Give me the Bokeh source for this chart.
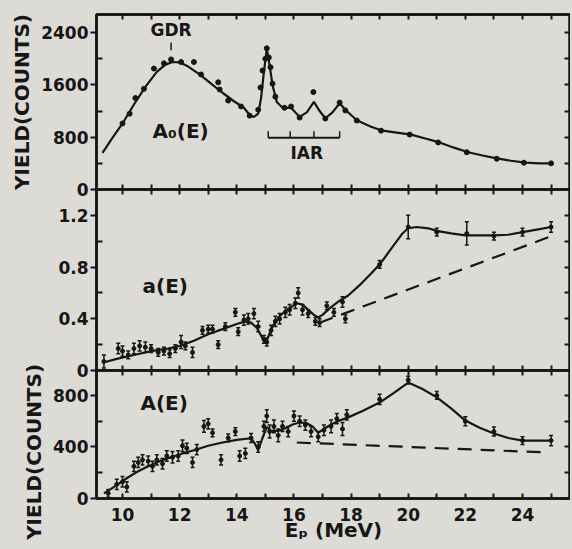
from bokeh.plotting import figure
from bokeh.layouts import column
from bokeh.models import (Range1d, LinearAxis, FixedTicker, Whisker, ColumnDataSource, TeeHead,
                          CustomLabelingPolicy)
from bokeh.core.properties import value
from bokeh.embed import file_html
from bokeh.resources import INLINE

FONT = "DejaVu Sans"
BG = "#dcdbd5"
INK = "#161616"

# ---------------- data ----------------
x_major = [10, 12, 14, 16, 18, 20, 22, 24]
x_minor = [9, 11, 13, 15, 17, 19, 21, 23, 25]

# Panel 1: A0(E) yield (counts)
a0_curve_E = [9.3, 9.6, 10.0, 10.4, 10.8, 11.2, 11.5, 11.75, 12.0, 12.3, 12.7, 13.1, 13.5, 13.9,
              14.25, 14.45, 14.6, 14.75, 14.85, 14.95, 15.05, 15.15, 15.25, 15.4, 15.6, 15.9,
              16.2, 16.45, 16.7, 16.9, 17.1, 17.35, 17.6, 17.8, 18.2, 18.7, 19.1, 19.6, 20.1,
              20.6, 21.1, 21.6, 22.1, 22.6, 23.1, 23.6, 24.1, 24.6, 25.0]
a0_curve_Y = [560, 760, 1010, 1300, 1570, 1800, 1910, 1950, 1945, 1880, 1760, 1620, 1480, 1350,
              1250, 1140, 1110, 1160, 1400, 1800, 2150, 1900, 1600, 1340, 1250, 1250,
              1110, 1180, 1340, 1200, 1090, 1180, 1320, 1220, 1060, 960, 900, 870, 840,
              780, 720, 640, 570, 520, 475, 440, 410, 400, 400]
a0_pts_E = [10.0, 10.25, 10.45, 10.75, 11.1, 11.45, 11.7, 12.05, 12.5, 12.75, 13.35, 13.4, 13.7,
            14.15, 14.45, 14.75, 14.83, 14.9, 15.0, 15.05, 15.12, 15.18, 15.25, 15.35, 15.67,
            15.9, 16.2, 16.68, 17.1, 17.6, 17.8, 18.2, 19.05, 20.05, 21.05, 22.05, 23.1, 24.05, 25.0]
a0_pts_Y = [1010, 1160, 1400, 1540, 1850, 1930, 1990, 1950, 1950, 1760, 1640, 1530, 1360,
            1270, 1130, 1220, 1560, 1820, 2000, 2160, 2020, 1870, 1620, 1420, 1250,
            1270, 1100, 1490, 1085, 1330, 1210, 1055, 900, 840, 720, 570, 470, 410, 400]
iar_E = [15.1, 15.87, 16.7, 17.6]

# Panel 2: a(E)
ae_curve_E = [9.3, 9.8, 10.4, 11.0, 11.6, 12.0, 12.5, 13.0, 13.5, 14.0, 14.3, 14.5, 14.7, 14.9,
              15.0, 15.1, 15.25, 15.45, 15.7, 15.9, 16.1, 16.3, 16.5, 16.7, 16.85, 17.0, 17.3,
              17.6, 17.9, 18.3, 18.7, 19.0, 19.4, 19.8, 20.0, 20.3, 20.7, 21.0, 21.5, 22.0,
              22.5, 23.0, 23.5, 24.0, 24.5, 25.0]
ae_curve_Y = [0.06, 0.09, 0.12, 0.15, 0.17, 0.19, 0.23, 0.28, 0.32, 0.36, 0.38, 0.37, 0.33, 0.25,
              0.22, 0.26, 0.34, 0.41, 0.46, 0.49, 0.52, 0.51, 0.47, 0.43, 0.41, 0.43, 0.49,
              0.54, 0.58, 0.66, 0.75, 0.82, 0.94, 1.06, 1.10, 1.11, 1.10, 1.08, 1.06, 1.045,
              1.045, 1.045, 1.05, 1.07, 1.09, 1.11]
ae_dash_E = [16.9, 24.9]
ae_dash_Y = [0.37, 1.03]
ae_pts_E = [9.35, 9.85, 10.0, 10.2, 10.4, 10.6, 10.8, 11.0, 11.25, 11.45, 11.65, 11.85, 12.05,
            12.2, 12.45, 12.8, 13.0, 13.15, 13.35, 13.6, 13.95, 14.05, 14.25, 14.4, 14.6, 14.75,
            14.95, 15.05, 15.2, 15.35, 15.5, 15.7, 15.85, 16.05, 16.15, 16.3, 16.5, 16.75, 16.9,
            17.15, 17.4, 17.7, 17.8, 19.0, 20.0, 21.0, 22.05, 23.0, 24.0, 25.0]
ae_pts_Y = [0.07, 0.17, 0.15, 0.12, 0.17, 0.19, 0.18, 0.17, 0.14, 0.15, 0.13, 0.17, 0.22,
            0.19, 0.14, 0.31, 0.32, 0.32, 0.20, 0.34, 0.45, 0.30, 0.39, 0.40, 0.44, 0.34,
            0.24, 0.22, 0.31, 0.38, 0.40, 0.45, 0.47, 0.52, 0.60, 0.47, 0.44, 0.38, 0.37,
            0.50, 0.45, 0.53, 0.40, 0.82, 1.11, 1.07, 1.06, 1.04, 1.07, 1.11]
ae_pts_err = [0.05, 0.04, 0.04, 0.03, 0.04, 0.04, 0.04, 0.03, 0.03, 0.03, 0.03, 0.03, 0.05,
              0.03, 0.04, 0.03, 0.03, 0.03, 0.03, 0.03, 0.03, 0.03, 0.04, 0.04, 0.04, 0.04,
              0.03, 0.03, 0.04, 0.04, 0.04, 0.04, 0.04, 0.04, 0.04, 0.04, 0.03, 0.03, 0.03,
              0.03, 0.03, 0.04, 0.03, 0.03, 0.09, 0.03, 0.09, 0.03, 0.03, 0.04]

# Panel 3: A(E) yield (counts)
A_curve_E = [9.35, 9.6, 9.9, 10.2, 10.5, 10.9, 11.3, 11.7, 12.1, 12.5, 13.0, 13.5, 14.0, 14.5,
             14.65, 14.75, 14.9, 15.05, 15.2, 15.45, 15.7, 15.95, 16.2, 16.45, 16.65, 16.85,
             17.05, 17.3, 17.6, 17.9, 18.4, 19.0, 19.5, 20.0, 20.5, 21.0, 21.5, 22.0, 22.5,
             23.0, 23.5, 24.0, 24.5, 25.0]
A_curve_Y = [40, 75, 120, 165, 205, 250, 290, 320, 350, 375, 410, 435, 455, 468,
             420, 375, 470, 555, 525, 525, 545, 575, 590, 585, 560, 510,
             540, 575, 605, 630, 680, 745, 820, 900, 850, 785, 700, 605, 550,
             505, 470, 450, 450, 450]
A_dash_E = [16.1, 24.8]
A_dash_Y = [435, 358]
A_pts_E = [9.5, 9.8, 10.0, 10.15, 10.4, 10.55, 10.7, 10.9, 11.05, 11.2, 11.4, 11.55, 11.75,
           11.95, 12.1, 12.25, 12.45, 12.6, 12.85, 13.0, 13.15, 13.45, 13.7, 13.95, 14.1, 14.3,
           14.5, 14.75, 14.95, 15.05, 15.15, 15.3, 15.45, 15.6, 15.8, 16.0, 16.2, 16.4, 16.6,
           16.85, 17.05, 17.3, 17.5, 17.7, 17.85, 19.0, 20.0, 21.0, 22.0, 23.0, 24.0, 25.0]
A_pts_Y = [40, 110, 130, 90, 250, 280, 300, 290, 250, 300, 270, 330, 320,
           330, 410, 390, 280, 380, 560, 580, 510, 300, 470, 520, 330, 350,
           470, 400, 560, 640, 520, 560, 490, 560, 520, 640, 600, 570, 520,
           480, 530, 560, 620, 540, 650, 770, 920, 800, 600, 520, 450, 450]
A_pts_err = [30, 40, 40, 40, 40, 40, 40, 40, 40, 40, 40, 40, 45,
             40, 45, 40, 40, 40, 45, 40, 30, 40, 30, 30, 40, 40,
             35, 40, 40, 50, 50, 50, 50, 40, 40, 40, 40, 40, 40,
             40, 40, 50, 40, 50, 40, 40, 30, 30, 35, 35, 30, 40]

# ---------------- helpers ----------------
x_range = Range1d(9.09, 25.68)

NO_LABELS = "for (let i = 0; i < indices.size; i++) { indices.unset(i) } return indices"


def style_axis(ax, t_in, t_out, labels, size="17px"):
    ax.axis_line_color = INK
    ax.axis_line_width = 2.5
    ax.major_tick_in = t_in
    ax.major_tick_out = t_out
    ax.minor_tick_in = t_in
    ax.minor_tick_out = t_out
    ax.major_tick_line_color = INK
    ax.minor_tick_line_color = INK
    ax.major_tick_line_width = 2
    ax.minor_tick_line_width = 2
    if labels:
        ax.major_label_text_font = FONT
        ax.major_label_text_font_size = size
        ax.major_label_text_font_style = "bold"
        ax.major_label_text_color = INK
    else:
        ax.major_label_text_font_size = "0px"
        ax.major_label_standoff = 0
        ax.major_label_policy = CustomLabelingPolicy(code=NO_LABELS)


def make_fig(y_end, frame_h, top_b, bottom_b, yt, ym, ylabel, xlabels):
    p = figure(x_range=x_range, y_range=Range1d(0, y_end), frame_width=474, frame_height=frame_h,
               output_backend="svg", toolbar_location=None,
               x_axis_location=None, y_axis_location=None,
               min_border_left=96, min_border_right=0, min_border_top=top_b,
               min_border_bottom=bottom_b,
               background_fill_color=BG, border_fill_alpha=0,
               outline_line_color=INK, outline_line_width=2.5)
    p.grid.visible = False
    ytick = FixedTicker(ticks=yt, minor_ticks=ym)
    xtick = FixedTicker(ticks=x_major, minor_ticks=x_minor)
    ly = LinearAxis(ticker=ytick)
    style_axis(ly, 0, 6, True)
    ly.minor_tick_in = 6
    ly.minor_tick_out = 0
    ly.major_label_standoff = 2
    if ylabel:
        ly.axis_label = ylabel
        ly.axis_label_text_font = FONT
        ly.axis_label_text_font_size = "20px"
        ly.axis_label_text_font_style = "bold"
        ly.axis_label_text_color = INK
        ly.axis_label_standoff = 4
    p.add_layout(ly, "left")
    ry = LinearAxis(ticker=ytick)
    style_axis(ry, 6, 0, False)
    p.add_layout(ry, "right")
    ax_top = LinearAxis(ticker=xtick)
    style_axis(ax_top, 5, 0, False)
    p.add_layout(ax_top, "above")
    bx = LinearAxis(ticker=xtick)
    if xlabels:
        style_axis(bx, 5, 0, True)
        bx.major_label_standoff = 9
        bx.axis_label = "E\u209a (MeV)"
        bx.axis_label_text_font = FONT
        bx.axis_label_text_font_size = "20px"
        bx.axis_label_text_font_style = "bold"
        bx.axis_label_text_color = INK
        bx.axis_label_standoff = -6
    else:
        style_axis(bx, 5, 0, False)
    p.add_layout(bx, "below")
    return p


def whiskers(p, xs, ys, errs):
    src = ColumnDataSource(dict(x=xs, lo=[y - e for y, e in zip(ys, errs)],
                                hi=[y + e for y, e in zip(ys, errs)]))
    w = Whisker(source=src, base="x", upper="hi", lower="lo", line_color=INK, line_width=1.5,
                upper_head=TeeHead(size=4, line_color=INK, line_width=1.5),
                lower_head=TeeHead(size=4, line_color=INK, line_width=1.5))
    p.add_layout(w)


def label(p, x, y, txt, size, align="left"):
    p.text(x=[x], y=[y], text=[txt], text_font=value(FONT), text_font_size=size,
           text_font_style="bold", text_align=align, text_baseline="middle", text_color=INK)


# ---------------- panel 1 ----------------
p1 = make_fig(2677, 175, 14, 12, [0, 800, 1600, 2400], [400, 1200, 2000], "YIELD(COUNTS)", False)
p1.margin = (0, 0, -12, 0)
p1.line(a0_curve_E, a0_curve_Y, line_color=INK, line_width=2.2)
p1.scatter(a0_pts_E, a0_pts_Y, size=5, color=INK)
p1.segment(x0=[11.7], y0=[2130], x1=[11.7], y1=[2250], line_color=INK, line_width=1.5)
label(p1, 11.7, 2440, "GDR", "17px", "center")
label(p1, 11.05, 900, "A\u2080(E)", "20px")
p1.segment(x0=[iar_E[0]], y0=[790], x1=[iar_E[-1]], y1=[790], line_color=INK, line_width=2)
p1.segment(x0=iar_E, y0=[790] * len(iar_E), x1=iar_E, y1=[890] * len(iar_E),
           line_color=INK, line_width=1.5)
label(p1, 16.45, 560, "IAR", "17px", "center")

# ---------------- panel 2 ----------------
p2 = make_fig(1.40, 181, 0, 12, [0, 0.4, 0.8, 1.2], [0.2, 0.6, 1.0], None, False)
p2.margin = (0, 0, -12, 0)
p2.yaxis[0].major_label_overrides = {0: "0"}
whiskers(p2, ae_pts_E, ae_pts_Y, ae_pts_err)
p2.scatter(ae_pts_E, ae_pts_Y, size=4, color=INK)
p2.line(ae_curve_E, ae_curve_Y, line_color=INK, line_width=2.2)
p2.line(ae_dash_E, ae_dash_Y, line_color=INK, line_width=2.2, line_dash="14 9")
label(p2, 10.7, 0.65, "a(E)", "20px")

# ---------------- panel 3 ----------------
p3 = make_fig(994, 128, 50, 50, [0, 400, 800], [200, 600], "YIELD(COUNTS)" + "\u00a0" * 5, True)
p3.margin = (-50, 0, 0, 0)
whiskers(p3, A_pts_E, A_pts_Y, A_pts_err)
p3.scatter(A_pts_E, A_pts_Y, size=4, color=INK)
p3.line(A_curve_E, A_curve_Y, line_color=INK, line_width=2.2)
p3.line(A_dash_E, A_dash_Y, line_color=INK, line_width=2.2, line_dash="14 9")
label(p3, 10.63, 740, "A(E)", "20px")

layout = column(p1, p2, p3, spacing=0,
                styles={"background-color": BG, "box-shadow": "0 0 0 12px " + BG})

open("out.html", "w").write(file_html(layout, INLINE))
